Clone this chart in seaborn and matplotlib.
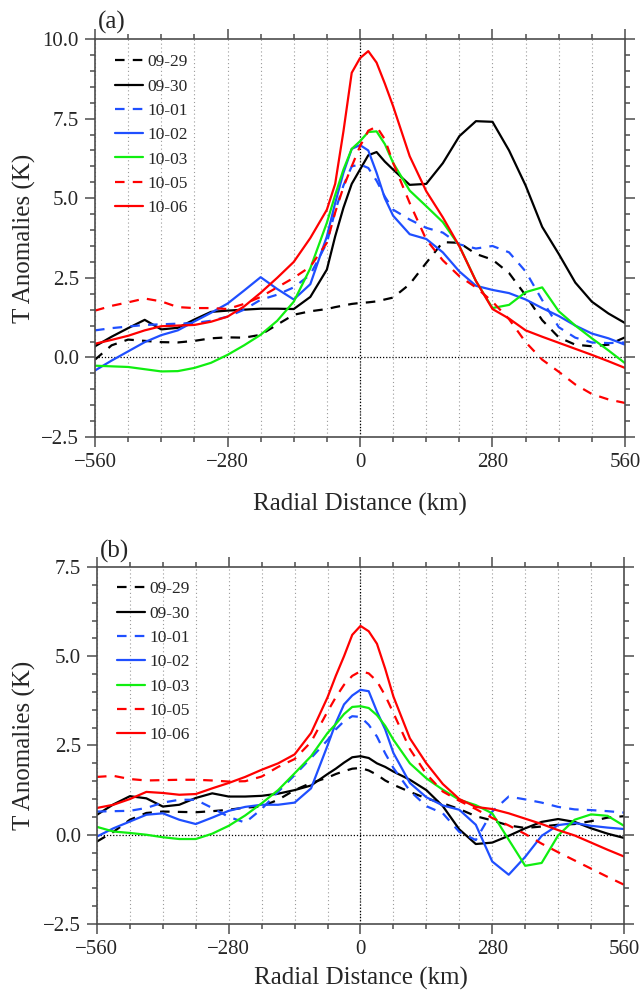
import matplotlib
matplotlib.use("Agg")
import numpy as np
import pandas as pd
import matplotlib.pyplot as plt
from matplotlib.ticker import MultipleLocator, FuncFormatter
import seaborn as sns

# radial distance samples (km), shared by every curve
X_KM = [-560, -525, -490, -455, -420, -385, -350, -315, -280, -245, -210, -175,
        -140, -105, -70, -52.5, -35, -17.5, 0, 17.5, 35, 52.5, 70, 105, 140, 175, 210,
        245, 280, 315, 350, 385, 420, 455, 490, 525, 560]
DATES = ["09-29", "09-30", "10-01", "10-02", "10-03", "10-05", "10-06"]

# panel (a)
A_0929 = [-0.07, 0.38, 0.56, 0.52, 0.48, 0.47, 0.52, 0.6, 0.63, 0.62, 0.71, 1.03,
          1.34, 1.45, 1.52, 1.58, 1.63, 1.68, 1.71, 1.73, 1.76, 1.82, 1.88, 2.3, 2.97,
          3.62, 3.6, 3.25, 3.07, 2.65, 1.95, 1.17, 0.63, 0.4, 0.35, 0.4, 0.63]
A_0930 = [0.35, 0.65, 0.92, 1.18, 0.88, 0.93, 1.19, 1.43, 1.47, 1.5, 1.53, 1.53,
          1.52, 1.9, 2.76, 3.8, 4.7, 5.45, 5.9, 6.35, 6.45, 6.15, 5.9, 5.42, 5.45,
          6.1, 6.95, 7.42, 7.4, 6.5, 5.4, 4.1, 3.25, 2.35, 1.75, 1.38, 1.08]
A_1001 = [0.85, 0.92, 0.97, 1.02, 1.04, 1.06, 1.08, 1.15, 1.28, 1.5, 1.81, 1.97,
          2.2, 2.6, 3.6, 4.6, 5.4, 6.0, 6.06, 5.95, 5.55, 5.05, 4.64, 4.33, 4.07,
          3.92, 3.55, 3.42, 3.5, 3.3, 2.7, 1.8, 0.95, 0.62, 0.47, 0.45, 0.47]
A_1002 = [-0.41, -0.1, 0.19, 0.48, 0.7, 0.85, 1.13, 1.4, 1.69, 2.1, 2.52, 2.15,
          1.82, 2.3, 3.8, 4.85, 5.8, 6.55, 6.67, 6.5, 5.8, 5.0, 4.45, 3.87, 3.72,
          3.3, 2.7, 2.25, 2.12, 2.02, 1.82, 1.55, 1.3, 1.0, 0.75, 0.6, 0.4]
A_1003 = [-0.26, -0.28, -0.3, -0.37, -0.44, -0.43, -0.33, -0.17, 0.08, 0.38, 0.71, 1.15,
          1.75, 2.8, 4.23, 5.1, 5.9, 6.55, 6.79, 7.08, 7.1, 6.7, 6.11, 5.24, 4.75,
          4.25, 3.5, 2.4, 1.55, 1.65, 2.05, 2.2, 1.45, 1.0, 0.6, 0.22, -0.18]
A_1005 = [1.47, 1.62, 1.73, 1.85, 1.76, 1.58, 1.55, 1.55, 1.52, 1.68, 1.9, 2.2,
          2.5, 2.85, 3.6, 4.55, 5.35, 6.0, 6.63, 7.12, 7.25, 6.85, 6.11, 4.85, 3.7,
          3.05, 2.55, 2.2, 1.75, 1.2, 0.48, -0.07, -0.45, -0.85, -1.15, -1.32, -1.43]
A_1006 = [0.43, 0.55, 0.68, 0.85, 0.98, 1.0, 1.02, 1.12, 1.28, 1.6, 2.03, 2.5,
          3.0, 3.75, 4.64, 5.45, 7.1, 8.94, 9.4, 9.62, 9.26, 8.6, 7.89, 6.32, 5.22,
          4.4, 3.49, 2.4, 1.52, 1.22, 0.85, 0.65, 0.46, 0.27, 0.08, -0.12, -0.33]

# panel (b)
B_0929 = [-0.19, 0.08, 0.42, 0.61, 0.65, 0.64, 0.63, 0.66, 0.7, 0.76, 0.79, 0.98,
          1.25, 1.45, 1.6, 1.7, 1.78, 1.85, 1.87, 1.8, 1.68, 1.52, 1.4, 1.2, 1.02,
          0.88, 0.72, 0.52, 0.4, 0.26, 0.19, 0.23, 0.28, 0.3, 0.38, 0.48, 0.52]
B_0930 = [0.56, 0.85, 1.08, 1.02, 0.79, 0.84, 1.03, 1.16, 1.07, 1.07, 1.09, 1.15,
          1.25, 1.38, 1.7, 1.85, 2.02, 2.17, 2.2, 2.15, 2.0, 1.9, 1.77, 1.54, 1.25,
          0.8, 0.15, -0.26, -0.22, -0.03, 0.18, 0.36, 0.44, 0.36, 0.18, 0.03, -0.09]
B_1001 = [0.65, 0.66, 0.67, 0.75, 0.9, 0.98, 0.98, 0.75, 0.5, 0.34, 0.72, 1.2,
          1.67, 2.15, 2.65, 2.95, 3.18, 3.32, 3.3, 3.08, 2.75, 2.28, 1.87, 1.23, 0.8,
          0.6, 0.08, -0.15, 0.65, 1.07, 0.99, 0.9, 0.78, 0.71, 0.69, 0.66, 0.62]
B_1002 = [-0.05, 0.18, 0.37, 0.56, 0.6, 0.42, 0.3, 0.48, 0.67, 0.78, 0.84, 0.84,
          0.9, 1.3, 2.5, 3.13, 3.65, 3.9, 4.06, 4.02, 3.45, 2.95, 2.29, 1.45, 1.05,
          0.82, 0.7, 0.28, -0.75, -1.12, -0.62, -0.03, 0.27, 0.33, 0.25, 0.2, 0.16]
B_1003 = [0.22, 0.09, 0.05, 0.0, -0.07, -0.12, -0.12, 0.03, 0.25, 0.54, 0.88, 1.25,
          1.72, 2.2, 2.85, 3.1, 3.38, 3.58, 3.6, 3.55, 3.35, 3.05, 2.66, 2.0, 1.58,
          1.26, 0.98, 0.83, 0.6, -0.14, -0.87, -0.79, -0.02, 0.42, 0.57, 0.53, 0.25]
B_1005 = [1.62, 1.65, 1.56, 1.52, 1.53, 1.54, 1.54, 1.52, 1.49, 1.5, 1.63, 1.9,
          2.12, 2.6, 3.45, 3.85, 4.2, 4.45, 4.58, 4.52, 4.3, 3.9, 3.41, 2.4, 1.7,
          1.21, 0.95, 0.72, 0.47, 0.26, 0.02, -0.25, -0.49, -0.72, -0.95, -1.18, -1.4]
B_1006 = [0.75, 0.84, 1.0, 1.2, 1.17, 1.12, 1.14, 1.3, 1.45, 1.62, 1.82, 2.0,
          2.25, 2.85, 3.85, 4.45, 5.0, 5.6, 5.85, 5.7, 5.35, 4.65, 3.87, 2.7, 2.0,
          1.42, 1.0, 0.78, 0.72, 0.6, 0.45, 0.3, 0.13, -0.02, -0.22, -0.42, -0.61]

COLORS = {"09-29": "black", "09-30": "black", "10-01": "#1f4fff", "10-02": "#1f4fff",
          "10-03": "#10ee10", "10-05": "#ff0000", "10-06": "#ff0000"}
DASHED = {"09-29": True, "09-30": False, "10-01": True, "10-02": False,
          "10-03": False, "10-05": True, "10-06": False}
DASH = (4.3, 3.7)
EDGE = "#4d4d4d"


def to_long(series):
    parts = [pd.DataFrame({"km": X_KM, "T": vals, "date": d}) for d, vals in zip(DATES, series)]
    return pd.concat(parts, ignore_index=True)


def fmt_y(v, pos):
    return f"{v:.1f}".replace("-", "\u2212")


def draw_panel(ax, df, ylim, tag, xlab_y, ylab_x, leg_anchor):
    for d in DATES:
        sub = df[df["date"] == d]
        sns.lineplot(data=sub, x="km", y="T", color=COLORS[d], lw=1.6, label=d,
                     ax=ax, sort=False, estimator=None, errorbar=None)
        if DASHED[d]:
            ax.get_lines()[-1].set_dashes(DASH)

    ax.set_xlim(-560, 560)
    ax.set_ylim(*ylim)
    ax.xaxis.set_major_locator(MultipleLocator(280))
    ax.xaxis.set_minor_locator(MultipleLocator(70))
    ax.yaxis.set_major_locator(MultipleLocator(2.5))
    ax.yaxis.set_minor_locator(MultipleLocator(0.5))
    ax.yaxis.set_major_formatter(FuncFormatter(fmt_y))

    ax.grid(axis="x", which="both", color="#9a9a9a", ls=(0, (1, 2.5)), lw=0.8)
    ax.axvline(0, color="black", ls=(0, (1, 1.5)), lw=0.9, zorder=1.6)
    ax.axhline(0, color="black", ls=(0, (1, 1.5)), lw=0.9, zorder=1.6)

    for s in ax.spines.values():
        s.set_visible(True)
        s.set_color(EDGE)
        s.set_linewidth(1.2)
    ax.tick_params(which="both", direction="out", top=True, right=True,
                   color=EDGE, width=1.1, labelsize=15, pad=4)
    ax.tick_params(which="major", length=7.5)
    ax.tick_params(which="minor", length=3.8)

    ax.set_xlabel("Radial Distance (km)", fontsize=18)
    ax.set_ylabel("T Anomalies (K)", fontsize=18)
    ax.xaxis.set_label_coords(0.5, xlab_y)
    ax.yaxis.set_label_coords(ylab_x, 0.5)

    ax.legend(loc="upper left", bbox_to_anchor=leg_anchor, frameon=False, fontsize=12.5,
              handlelength=1.6, handletextpad=0.25, labelspacing=0.47,
              borderpad=0, borderaxespad=0)
    ax.text(0.005, 1.012, tag, transform=ax.transAxes, fontsize=18,
            ha="left", va="bottom")


sns.set_theme(style="ticks")
plt.rcParams["font.family"] = ["Liberation Serif", "DejaVu Serif"]
plt.rcParams["axes.unicode_minus"] = True

fig = plt.figure(figsize=(6.42, 9.93), dpi=100)
ax_a = fig.add_axes([0.148, 0.5599, 0.8255, 0.4008])
ax_b = fig.add_axes([0.151, 0.0695, 0.821, 0.3595])

draw_panel(ax_a, to_long([A_0929, A_0930, A_1001, A_1002, A_1003, A_1005, A_1006]),
           (-2.5, 10.0), "(a)", -0.141, -0.111, (0.038, 0.962))
draw_panel(ax_b, to_long([B_0929, B_0930, B_1001, B_1002, B_1003, B_1005, B_1006]),
           (-2.5, 7.5), "(b)", -0.12, -0.116, (0.038, 0.96))

fig.savefig("out.png", dpi=100, facecolor="white")
